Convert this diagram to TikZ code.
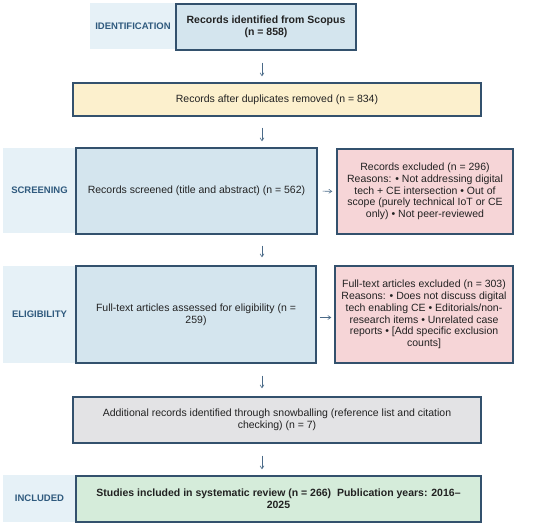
\documentclass[tikz,border=0pt]{standalone}
\usepackage{fontspec}
\setmainfont{Liberation Sans}
\usetikzlibrary{arrows.meta,calc}
\definecolor{labelbg}{HTML}{E6F1F7}
\definecolor{labeltxt}{HTML}{2F5A7E}
\definecolor{bluefill}{HTML}{D4E5EE}
\definecolor{edge}{HTML}{33516D}
\definecolor{yellowfill}{HTML}{FCF0CD}
\definecolor{redfill}{HTML}{F6D5D7}
\definecolor{greyfill}{HTML}{E3E3E5}
\definecolor{greenfill}{HTML}{D5ECDA}
\definecolor{arrcol}{HTML}{4A6A88}
\definecolor{txt}{HTML}{222222}
\tikzset{
  x=1pt,y=-1pt,
  box/.style={draw=edge,line width=1.4pt,align=center,inner sep=0pt,text=txt,
    font=\fontsize{10.5}{11.7}\selectfont},
  boldbox/.style={box,font=\fontsize{10.5}{11.7}\selectfont\bfseries},
  phase/.style={fill=labelbg,draw=none,inner sep=0pt,text=labeltxt,
    font=\fontsize{9.5}{11}\selectfont\bfseries},
  arr/.style={draw=arrcol,line width=0.6pt,-{Straight Barb[length=3pt,width=4pt]}}
}
\begin{document}
\begin{tikzpicture}
\useasboundingbox (0,0) rectangle (550,525);
% phase labels
\node[phase,minimum width=86pt,minimum height=46pt] (idl) at (133,26) {IDENTIFICATION};
\node[phase,minimum width=73pt,minimum height=85pt] (scl) at (39.5,190.5) {SCREENING};
\node[phase,minimum width=73pt,minimum height=97pt] (ell) at (39.5,314.5) {ELIGIBILITY};
\node[phase,minimum width=73pt,minimum height=47pt] (inl) at (39.5,498.5) {INCLUDED};
% boxes
\node[boldbox,fill=bluefill,minimum width=180pt,minimum height=46pt] (scopus) at (266,27)
  {Records identified from Scopus\\(n = 858)};
\node[box,fill=yellowfill,minimum width=408pt,minimum height=33pt] (dup) at (277,99.5)
  {Records after duplicates removed (n = 834)};
\node[box,fill=bluefill,minimum width=241pt,minimum height=86pt] (scr) at (196.5,191)
  {Records screened (title and abstract) (n = 562)};
\node[box,fill=redfill,minimum width=176pt,minimum height=85pt] (ex1) at (425,191.5)
  {Records excluded (n = 296)\\Reasons: • Not addressing digital\\tech + CE intersection • Out of\\scope (purely technical IoT or CE\\only) • Not peer-reviewed};
\node[box,fill=bluefill,minimum width=240pt,minimum height=97pt] (elig) at (196,314.5)
  {Full-text articles assessed for eligibility (n =\\259)};
\node[box,fill=redfill,minimum width=178pt,minimum height=97pt] (ex2) at (424,314.5)
  {Full-text articles excluded (n = 303)\\Reasons: • Does not discuss digital\\tech enabling CE • Editorials/non-\\research items • Unrelated case\\reports • [Add specific exclusion\\counts]};
\node[box,fill=greyfill,minimum width=408pt,minimum height=46pt] (snow) at (277,420)
  {Additional records identified through snowballing (reference list and citation\\checking) (n = 7)};
\node[boldbox,fill=greenfill,minimum width=405pt,minimum height=46pt] (incl) at (278.5,499)
  {Studies included in systematic review (n = 266)\ \ Publication years: 2016–\\2025};
% arrows
\coordinate (ax) at (262,0);
\draw[arr,shorten <=12pt,shorten >=6pt] (scopus.south -| ax) -- (dup.north -| ax);
\draw[arr,shorten <=11pt,shorten >=6pt] (dup.south -| ax) -- (scr.north -| ax);
\draw[arr,shorten <=11pt,shorten >=8pt] (scr.south -| ax) -- (elig.north -| ax);
\draw[arr,shorten <=12pt,shorten >=8pt] (elig.south -| ax) -- (snow.north -| ax);
\draw[arr,shorten <=12pt,shorten >=6pt] (snow.south -| ax) -- (incl.north -| ax);
\draw[arr,shorten <=5pt,shorten >=4pt] (scr.east) -- (ex1.west);
\draw[arr,shorten <=3pt,shorten >=3pt] ([yshift=-3pt]elig.east) -- ([yshift=-3pt]ex2.west);
\end{tikzpicture}
\end{document}
